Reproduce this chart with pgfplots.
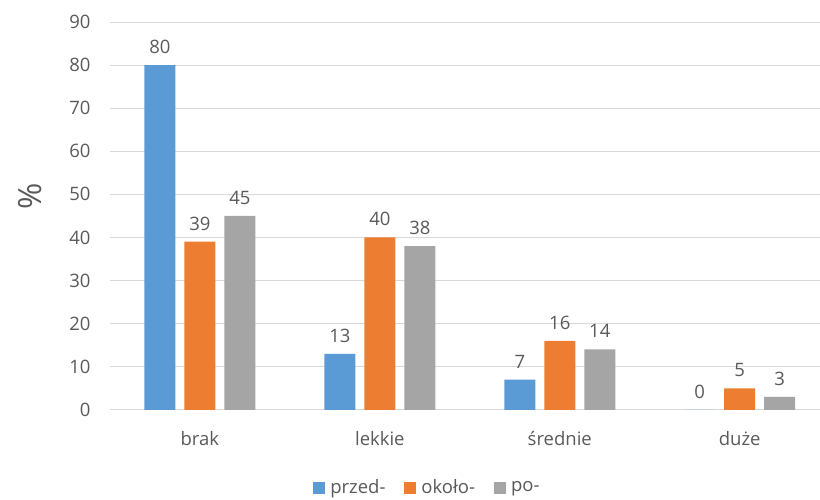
\documentclass[border=0pt]{standalone}
\usepackage{pgfplots}
\pgfplotsset{compat=1.18}
\usepackage{fontspec}
\setmainfont{Open Sans}
\definecolor{cblue}{HTML}{5B9BD5}
\definecolor{corange}{HTML}{ED7D31}
\definecolor{cgray}{HTML}{A5A5A5}
\definecolor{textgray}{HTML}{595959}
\definecolor{gridgray}{HTML}{D9D9D9}
\begin{document}
\begin{tikzpicture}
\begin{axis}[
  name=ax,
  scale only axis, width=710pt, height=388pt,
  xmin=-0.5, xmax=3.444, ymin=0, ymax=90,
  ytick={0,10,...,90}, xtick={0,1,2,3},
  xticklabels={brak,lekkie,średnie,duże},
  axis x line*=bottom, axis y line*=left,
  y axis line style={draw=none},
  x axis line style={draw=gridgray, line width=0.8pt},
  major tick length=0pt,
  ymajorgrids, grid style={draw=gridgray, line width=0.8pt},
  tick label style={font=\fontsize{18.5}{18.5}\selectfont, text=textgray},
  /pgf/number format/assume math mode=true,
  yticklabel style={xshift=-16pt},
  xticklabel style={yshift=-18pt},
  ybar=9pt,
  bar width=31pt,
  nodes near coords,
  nodes near coords style={font=\fontsize{18.5}{18.5}\selectfont, text=textgray, yshift=8pt},
  legend style={at={(0.282,-0.17)}, anchor=north west, draw=none, legend columns=3,
    font=\fontsize{18.5}{18.5}\selectfont, text=textgray,
    /tikz/every odd column/.append style={column sep=3pt},
    /tikz/every even column/.append style={column sep=17pt}},
  legend image code/.code={\fill[#1] (0pt,-6pt) rectangle (12pt,6pt);},
]
\addplot[fill=cblue, draw=none] coordinates {(0,80) (1,13) (2,7) (3,0)};
\addlegendentry{przed-}
\addplot[fill=corange, draw=none] coordinates {(0,39) (1,40) (2,16) (3,5)};
\addlegendentry{około-}
\addplot[fill=cgray, draw=none] coordinates {(0,45) (1,38) (2,14) (3,3)};
\addlegendentry{po-}
\end{axis}
\node[rotate=90, font=\fontsize{32}{32}\selectfont, text=textgray] at ([xshift=-80pt,yshift=20pt]ax.west) {\%};
\path ([xshift=-110pt,yshift=22pt]ax.north west) -- (ax.north east);
\end{tikzpicture}
\end{document}
